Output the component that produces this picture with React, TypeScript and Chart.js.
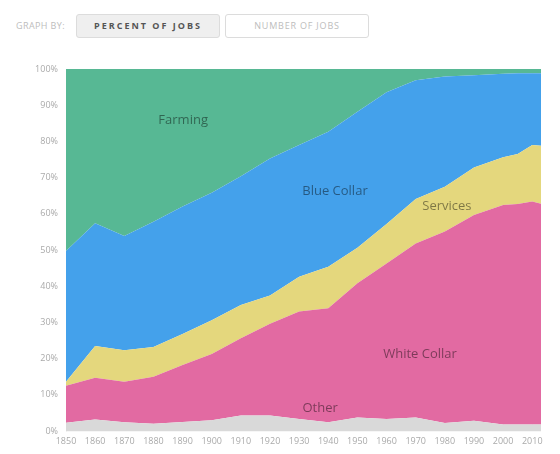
import { useEffect, useRef } from 'react';
import { Chart, registerables } from 'chart.js';

Chart.register(...registerables);

// share of jobs (%) per category
const years = [1850, 1860, 1870, 1880, 1890, 1900, 1910, 1920, 1930, 1940, 1950, 1960, 1970, 1980, 1990, 2000, 2005, 2010, 2013];
const other = [2.3, 3.2, 2.4, 2.0, 2.5, 3.0, 4.3, 4.3, 3.3, 2.4, 3.7, 3.3, 3.7, 2.2, 2.8, 1.8, 1.8, 1.8, 1.8];
const whiteCollar = [10.2, 11.5, 11.2, 13.0, 15.7, 18.3, 21.3, 25.3, 29.7, 31.5, 37.1, 43.0, 48.1, 52.9, 56.9, 60.6, 60.9, 61.6, 61.0];
const services = [1.1, 8.8, 8.7, 8.2, 8.6, 9.3, 9.2, 7.8, 9.6, 11.5, 9.8, 10.9, 12.3, 12.4, 13.1, 13.2, 13.8, 15.6, 16.0];
const blueCollar = [36.1, 33.9, 31.6, 34.6, 35.2, 35.2, 35.6, 37.9, 36.4, 37.3, 37.6, 36.4, 32.8, 30.4, 25.5, 23.1, 22.3, 19.8, 20.0];
const farming = [50.3, 42.6, 46.1, 42.2, 38.0, 34.2, 29.6, 24.7, 21.0, 17.3, 11.8, 6.4, 3.1, 2.1, 1.7, 1.3, 1.2, 1.2, 1.2];

const seriesNames = ['Other', 'White Collar', 'Services', 'Blue Collar', 'Farming'];
const seriesValues = [other, whiteCollar, services, blueCollar, farming];
const seriesColors = ['#d9d9d9', '#e26aa2', '#e4d77d', '#44a1eb', '#57b894'];

const xTicks = [1850, 1860, 1870, 1880, 1890, 1900, 1910, 1920, 1930, 1940, 1950, 1960, 1970, 1980, 1990, 2000, 2010];
const yTicks = [0, 10, 20, 30, 40, 50, 60, 70, 80, 90, 100];

// where each area name sits, in data units (year, %)
const labelNames = ['Farming', 'Blue Collar', 'Services', 'White Collar', 'Other'];
const labelYears = [1890.2, 1942.3, 1980.7, 1971.5, 1937.2];
const labelPercents = [85.9, 66.3, 62.2, 21.3, 6.4];

const FONT = '"Open Sans", "DejaVu Sans", sans-serif';

const areaLabels = {
  id: 'areaLabels',
  afterDatasetsDraw(chart: Chart) {
    const { ctx, scales } = chart;
    ctx.save();
    ctx.font = `13px ${FONT}`;
    ctx.fillStyle = 'rgba(0,0,0,0.45)';
    ctx.textAlign = 'center';
    ctx.textBaseline = 'middle';
    labelNames.forEach((name, i) => {
      ctx.fillText(name, scales.x.getPixelForValue(labelYears[i]), scales.y.getPixelForValue(labelPercents[i]));
    });
    ctx.restore();
  }
};

function JobsChart() {
  const ref = useRef<HTMLCanvasElement | null>(null);

  useEffect(() => {
    if (!ref.current) return;
    const chart = new Chart(ref.current, {
      type: 'line',
      data: {
        datasets: seriesNames.map((name, i) => ({
          label: name,
          data: years.map((year, j) => ({ x: year, y: seriesValues[i][j] })),
          backgroundColor: seriesColors[i],
          borderColor: seriesColors[i],
          borderWidth: 0,
          pointRadius: 0,
          tension: 0,
          fill: i === 0 ? 'origin' : '-1'
        }))
      },
      options: {
        animation: false,
        responsive: false,
        layout: { padding: { top: 69, right: 19, left: 0, bottom: 0 } },
        plugins: { legend: { display: false }, tooltip: { enabled: false } },
        scales: {
          x: {
            type: 'linear',
            min: 1850,
            max: 2013,
            z: 1,
            afterBuildTicks: (scale: any) => { scale.ticks = xTicks.map((value) => ({ value })); },
            afterFit: (scale: any) => { scale.height = 23; },
            ticks: {
              color: '#aaa',
              font: { family: FONT, size: 9 },
              padding: 5,
              maxRotation: 0,
              autoSkip: false,
              callback: (v: any) => String(v)
            },
            grid: { color: 'rgba(0,0,0,0.035)', drawTicks: false },
            border: { display: false }
          },
          y: {
            type: 'linear',
            stacked: true,
            min: 0,
            max: 100,
            z: 1,
            afterBuildTicks: (scale: any) => { scale.ticks = yTicks.map((value) => ({ value })); },
            afterFit: (scale: any) => { scale.width = 66; },
            ticks: {
              color: '#aaa',
              font: { family: FONT, size: 9 },
              padding: 8,
              callback: (v: any) => `${v}%`
            },
            grid: { color: 'rgba(0,0,0,0.035)', drawTicks: false },
            border: { display: true, color: 'rgba(0,0,0,0.06)' }
          }
        }
      },
      plugins: [areaLabels]
    });
    return () => chart.destroy();
  }, []);

  return <canvas ref={ref} width={560} height={454} style={{ position: 'absolute', left: 0, top: 0 }} />;
}

const buttonBase: React.CSSProperties = {
  position: 'absolute',
  top: 14,
  width: 144,
  height: 24,
  boxSizing: 'border-box',
  border: '1px solid #dcdcdc',
  borderRadius: 3,
  fontFamily: FONT,
  fontSize: 9,
  lineHeight: '22px',
  textAlign: 'center'
};

export default function App() {
  return (
    <div style={{ position: 'absolute', left: 0, top: 0, width: 560, height: 454, background: '#fff', overflow: 'hidden' }}>
      <div style={{ position: 'absolute', left: 16, top: 14, height: 24, lineHeight: '24px', fontFamily: FONT, fontSize: 9, color: '#bdbdbd', letterSpacing: 0.4 }}>
        GRAPH BY:
      </div>
      <div style={{ ...buttonBase, left: 76, background: '#efefef', color: '#555', fontWeight: 700, letterSpacing: 2 }}>
        PERCENT OF JOBS
      </div>
      <div style={{ ...buttonBase, left: 225, background: '#fff', color: '#bdbdbd', letterSpacing: 0.8 }}>
        NUMBER OF JOBS
      </div>
      <JobsChart />
    </div>
  );
}
